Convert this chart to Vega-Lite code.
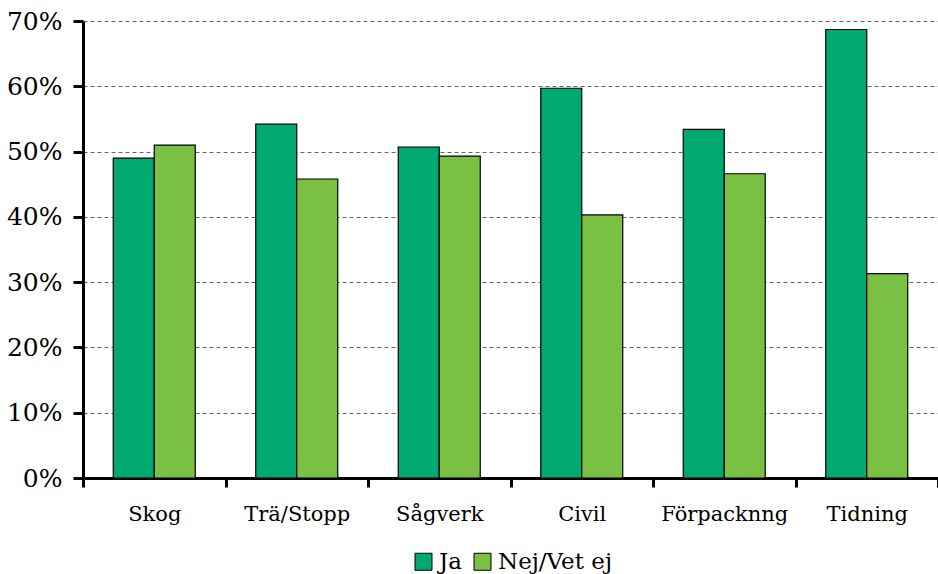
{
  "$schema": "https://vega.github.io/schema/vega-lite/v6.json",
  "width": 855,
  "height": 457,
  "autosize": {"type": "none"},
  "padding": {"left": 83, "top": 21, "right": 0, "bottom": 96},
  "background": "white",
  "data": {
    "values": [
      {"kategori": "Skog", "svar": "Ja", "andel": 0.490},
      {"kategori": "Skog", "svar": "Nej/Vet ej", "andel": 0.510},
      {"kategori": "Trä/Stopp", "svar": "Ja", "andel": 0.542},
      {"kategori": "Trä/Stopp", "svar": "Nej/Vet ej", "andel": 0.458},
      {"kategori": "Sågverk", "svar": "Ja", "andel": 0.507},
      {"kategori": "Sågverk", "svar": "Nej/Vet ej", "andel": 0.493},
      {"kategori": "Civil", "svar": "Ja", "andel": 0.597},
      {"kategori": "Civil", "svar": "Nej/Vet ej", "andel": 0.403},
      {"kategori": "Förpacknng", "svar": "Ja", "andel": 0.534},
      {"kategori": "Förpacknng", "svar": "Nej/Vet ej", "andel": 0.466},
      {"kategori": "Tidning", "svar": "Ja", "andel": 0.687},
      {"kategori": "Tidning", "svar": "Nej/Vet ej", "andel": 0.313}
    ]
  },
  "mark": {"type": "bar", "stroke": "black", "strokeWidth": 1.2},
  "encoding": {
    "x": {
      "field": "kategori",
      "type": "nominal",
      "sort": null,
      "title": null,
      "scale": {"paddingInner": 0, "paddingOuter": 0},
      "axis": {
        "tickBand": "extent",
        "labelAngle": 0,
        "labelFont": "DejaVu Serif",
        "labelFontSize": 21,
        "labelColor": "black",
        "labelPadding": 16,
        "tickSize": 9,
        "tickWidth": 3,
        "tickColor": "black",
        "domainColor": "black",
        "domainWidth": 3,
        "grid": false
      }
    },
    "xOffset": {
      "field": "svar",
      "type": "nominal",
      "sort": ["Ja", "Nej/Vet ej"],
      "scale": {"paddingInner": 0, "paddingOuter": 0.738}
    },
    "y": {
      "field": "andel",
      "type": "quantitative",
      "title": null,
      "scale": {"domain": [0, 0.7], "nice": false},
      "axis": {
        "values": [0, 0.1, 0.2, 0.3, 0.4, 0.5, 0.6, 0.7],
        "format": ".0%",
        "labelFont": "DejaVu Serif",
        "labelFontSize": 25,
        "labelColor": "black",
        "labelPadding": 11,
        "tickSize": 10,
        "tickWidth": 3,
        "tickColor": "black",
        "domainColor": "black",
        "domainWidth": 3,
        "grid": true,
        "gridColor": "#666666",
        "gridDash": [4, 3],
        "gridWidth": 1
      }
    },
    "color": {
      "field": "svar",
      "type": "nominal",
      "sort": ["Ja", "Nej/Vet ej"],
      "scale": {"domain": ["Ja", "Nej/Vet ej"], "range": ["#00A972", "#7AC143"]},
      "legend": {
        "title": null,
        "orient": "none",
        "legendX": 329,
        "legendY": 529,
        "direction": "horizontal",
        "padding": 0,
        "symbolType": "square",
        "symbolSize": 289,
        "symbolStrokeColor": "black",
        "symbolStrokeWidth": 1,
        "labelFont": "DejaVu Serif",
        "labelFontSize": 23,
        "labelColor": "black",
        "labelOffset": 4,
        "columnPadding": 9
      }
    }
  },
  "config": {
    "view": {"stroke": null}
  }
}
